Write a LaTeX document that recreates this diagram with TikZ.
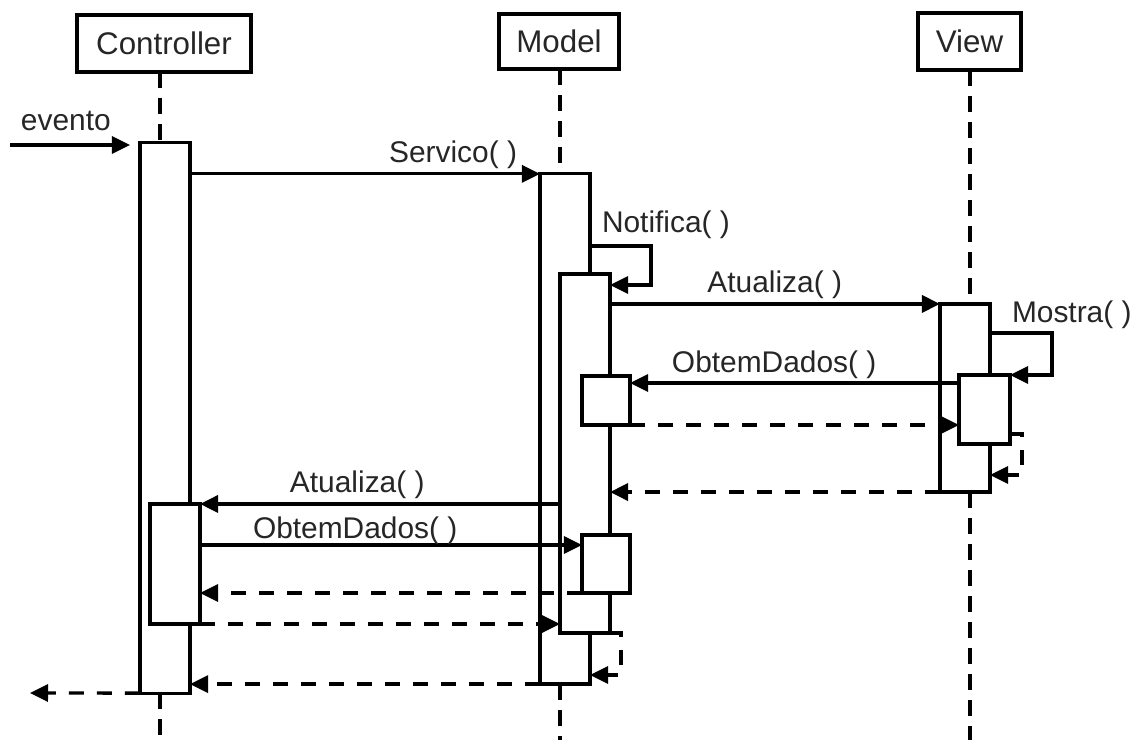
\documentclass[tikz,border=0pt]{standalone}
\usepackage{fontspec}
\setmainfont{Liberation Sans}
\usetikzlibrary{arrows.meta}
\begin{document}
\begin{tikzpicture}[x=0.01cm,y=-0.01cm,
  head/.style={draw, line width=0.04cm, inner sep=0, outer sep=0, text=black!85, font=\fontsize{8.9pt}{10pt}\selectfont},
  bar/.style={draw, fill=white, line width=0.033cm, inner sep=0, outer sep=0},
  life/.style={line width=0.033cm, dash pattern=on 0.16cm off 0.10cm},
  msg/.style={line width=0.033cm, -{Triangle[length=0.18cm,width=0.17cm]}},
  ret/.style={msg, dash pattern=on 0.15cm off 0.13cm},
  lbl/.style={inner sep=0, outer sep=0, text=black!85, font=\fontsize{8.5pt}{10pt}\selectfont, anchor=base west},
]
\useasboundingbox (0,0) rectangle (1132,740);
\fill[white] (0,0) rectangle (1132,740);

% headers
\node[head, minimum width=1.74cm, minimum height=0.57cm] (ctrl) at (164,43.5) {Controller};
\node[head, minimum width=1.20cm, minimum height=0.55cm] (model) at (559,41.5) {Model};
\node[head, minimum width=1.03cm, minimum height=0.57cm] (view) at (969.5,41.5) {View};

% activation bars
\node[bar, minimum width=0.50cm, minimum height=5.50cm] (ctrlA) at (165,418) {};
\node[bar, minimum width=0.50cm, minimum height=1.20cm] (ctrlB) at (175,564) {};
\node[bar, minimum width=0.50cm, minimum height=5.10cm] (modA) at (565,429) {};
\node[bar, minimum width=0.50cm, minimum height=3.59cm] (modB) at (585,453.5) {};
\node[bar, minimum width=0.48cm, minimum height=0.49cm] (modC) at (606,400.5) {};
\node[bar, minimum width=0.48cm, minimum height=0.58cm] (modD) at (606,564) {};
\node[bar, minimum width=0.50cm, minimum height=1.88cm] (viewA) at (965,398) {};
\node[bar, minimum width=0.51cm, minimum height=0.69cm] (viewB) at (984.5,409.5) {};

% free ends
\coordinate (ctrlEnd) at (160,740);
\coordinate (modEnd) at (560,740);
\coordinate (viewEnd) at (970,740);
\coordinate (evStart) at (10,145);
\coordinate (evEnd) at (130,145);
\coordinate (outEnd) at (30,693);

% lifelines
\draw[life] (ctrl.south -| ctrlEnd) -- (ctrlA.north -| ctrlEnd);
\draw[life] (ctrlA.south -| ctrlEnd) -- (ctrlEnd);
\draw[life] (model.south -| modEnd) -- (modA.north -| modEnd);
\draw[life] (modA.south -| modEnd) -- (modEnd);
\draw[life] (view.south -| viewEnd) -- (viewA.north -| viewEnd);
\draw[life] (viewA.south -| viewEnd) -- (viewEnd);

% messages
\draw[msg] (evStart) -- (evEnd);
\node[lbl] at (21,131) {evento};

\draw[msg] (ctrlA.east |- modA.north) -- (modA.north west);
\node[lbl, anchor=base east] at (517,163) {Servico( )};

\draw[msg] (modA.east |- 0,246) -- ++(61,0) |- (modB.east |- 0,285);
\node[lbl] at (602,233) {Notifica( )};

\draw[msg] (modB.east |- viewA.north) -- (viewA.north west);
\node[lbl, anchor=base east] at (842,293) {Atualiza( )};

\draw[msg] (viewA.east |- 0,333) -- ++(62,0) |- (viewB.north east);
\node[lbl] at (1012,323) {Mostra( )};

\draw[msg] (viewB.west |- 0,383) -- (modC.east |- 0,383);
\node[lbl] at (672,373) {ObtemDados( )};

\draw[ret] (modC.south east) -- (viewB.west |- modC.south);
\draw[ret] (viewB.east |- 0,434) -- ++(12,0) |- (viewA.east |- 0,475);
\draw[ret] (viewA.south west) -- (modB.east |- viewA.south);

\draw[msg] (modB.west |- ctrlB.north) -- (ctrlB.north east);
\node[lbl] at (290,493) {Atualiza( )};

\draw[msg] (ctrlB.east |- 0,545) -- (modD.west |- 0,545);
\node[lbl] at (253,539) {ObtemDados( )};

\draw[ret] (modD.south west) -- (ctrlB.east |- modD.south);
\draw[ret] (ctrlB.south east) -- (modB.west |- ctrlB.south);
\draw[ret] (modB.south east) -- ++(11,0) |- (modA.east |- 0,675);
\draw[ret] (modA.south west) -- (ctrlA.east |- modA.south);
\draw[ret] (ctrlA.south west) -- (outEnd);
\end{tikzpicture}
\end{document}
